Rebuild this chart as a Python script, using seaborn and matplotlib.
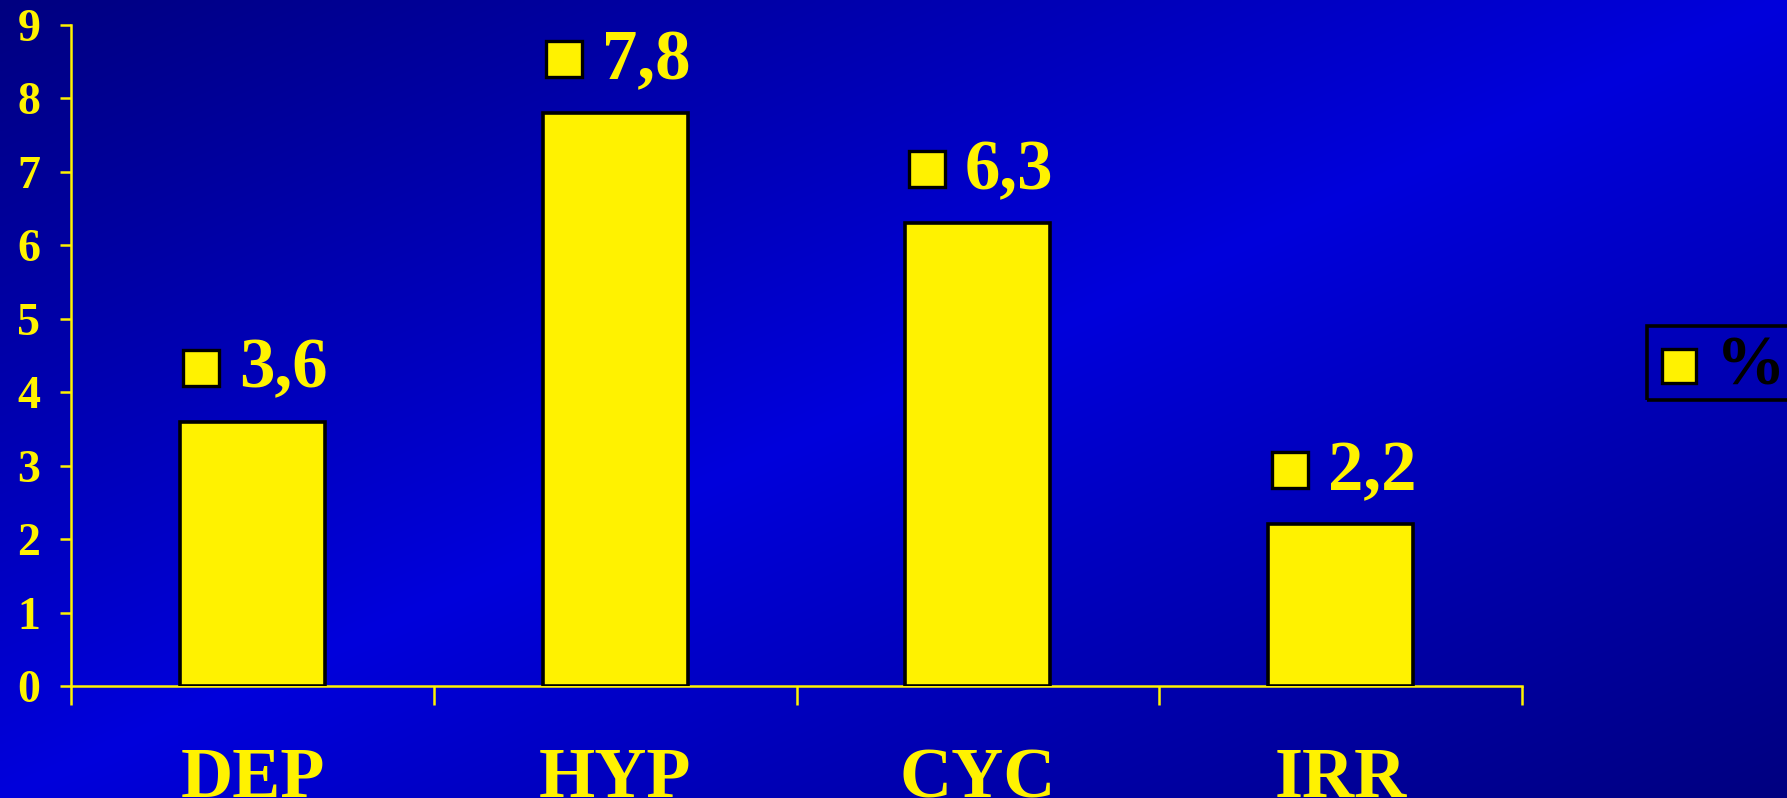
import numpy as np
import pandas as pd
import matplotlib
matplotlib.use("Agg")
import matplotlib.pyplot as plt
import matplotlib.transforms as mtransforms
from matplotlib.lines import Line2D
from matplotlib.patches import Rectangle
import seaborn as sns

# Chart data
categories = ["DEP", "HYP", "CYC", "IRR"]
values = [3.6, 7.8, 6.3, 2.2]
value_labels = ["3,6", "7,8", "6,3", "2,2"]
series_name = "%"
y_ticks = list(range(0, 10))

YELLOW = "#FFF200"
SERIF = ["Liberation Serif", "DejaVu Serif"]

sns.set_theme(style="white")
plt.rcParams["font.family"] = SERIF
plt.rcParams["font.weight"] = "bold"

W, H, DPI = 1787, 798, 100
fig = plt.figure(figsize=(W / DPI, H / DPI), dpi=DPI)


def fx(px):
    return px / W


def fy(py):
    return 1 - py / H


# Diagonal blue backdrop: dark corners top-left / bottom-right, bright across the middle
bg = fig.add_axes([0, 0, 1, 1], zorder=-10)
gx = np.linspace(0, 1, 400)[None, :]
gy = np.linspace(0, 1, 200)[:, None]
t = (gx + gy) / 2.0
tri = 1 - np.abs(2 * t - 1)
dark, bright = 128 / 255, 220 / 255
blue = dark + (bright - dark) * tri
img = np.zeros(t.shape + (3,))
img[..., 2] = blue
bg.imshow(img, aspect="auto", extent=[0, 1, 0, 1], origin="upper", interpolation="bilinear")
bg.set_axis_off()

# Plot area
left, right = fx(71), fx(1522)
bottom, top = fy(686), fy(25)
ax = fig.add_axes([left, bottom, right - left, top - bottom])
ax.set_facecolor("none")

df = pd.DataFrame({"category": categories, "value": values})
sns.barplot(data=df, x="category", y="value", color=YELLOW, saturation=1,
            edgecolor="black", linewidth=2.6, width=0.4, ax=ax, zorder=3)

ax.set_xlim(-0.5, len(categories) - 0.5)
ax.set_ylim(0, 9)
ax.set_yticks(y_ticks)
ax.set_yticklabels([str(v) for v in y_ticks])
ax.set_xlabel("")
ax.set_ylabel("")

for side in ["top", "right"]:
    ax.spines[side].set_visible(False)
for side in ["left", "bottom"]:
    ax.spines[side].set_color(YELLOW)
    ax.spines[side].set_linewidth(1.8)

ax.tick_params(axis="y", direction="out", length=8, width=1.8, color=YELLOW,
               labelcolor=YELLOW, labelsize=33, pad=14, left=True)
ax.tick_params(axis="x", which="major", length=0, labelcolor=YELLOW,
               labelsize=52, pad=44, bottom=True)
ax.set_xticks(np.arange(-0.5, len(categories), 1.0), minor=True)
ax.tick_params(axis="x", which="minor", direction="out", length=14, width=1.8,
               color=YELLOW, bottom=True)
for lab in ax.get_xticklabels() + ax.get_yticklabels():
    lab.set_fontweight("bold")
    lab.set_fontfamily(SERIF)

# Value labels: legend key square followed by the value
for i, (v, lab) in enumerate(zip(values, value_labels)):
    sq_tr = mtransforms.offset_copy(ax.transData, fig=fig, x=-51, y=54, units="dots")
    ax.plot([i], [v], marker="s", markersize=26, markerfacecolor=YELLOW,
            markeredgecolor="black", markeredgewidth=2.4, ls="none",
            transform=sq_tr, clip_on=False, zorder=4)
    tx_tr = mtransforms.offset_copy(ax.transData, fig=fig, x=-13, y=34, units="dots")
    ax.text(i, v, lab, transform=tx_tr, ha="left", va="baseline", color=YELLOW,
            fontsize=51, fontweight="bold", family=SERIF, zorder=4)

# Series key on the right, running past the canvas edge
fig.add_artist(Rectangle((fx(1647), fy(400)), fx(1900) - fx(1647), fy(326) - fy(400),
                         transform=fig.transFigure, facecolor="none",
                         edgecolor="black", linewidth=2.6))
fig.add_artist(Line2D([fx(1678.5)], [fy(365.5)], transform=fig.transFigure,
                      marker="s", markersize=24, markerfacecolor=YELLOW,
                      markeredgecolor="black", markeredgewidth=2.4, ls="none"))
fig.text(fx(1716), fy(385), series_name, ha="left", va="baseline", color="black",
         fontsize=50, fontweight="bold", family=SERIF)

fig.savefig("out.png", dpi=DPI)
